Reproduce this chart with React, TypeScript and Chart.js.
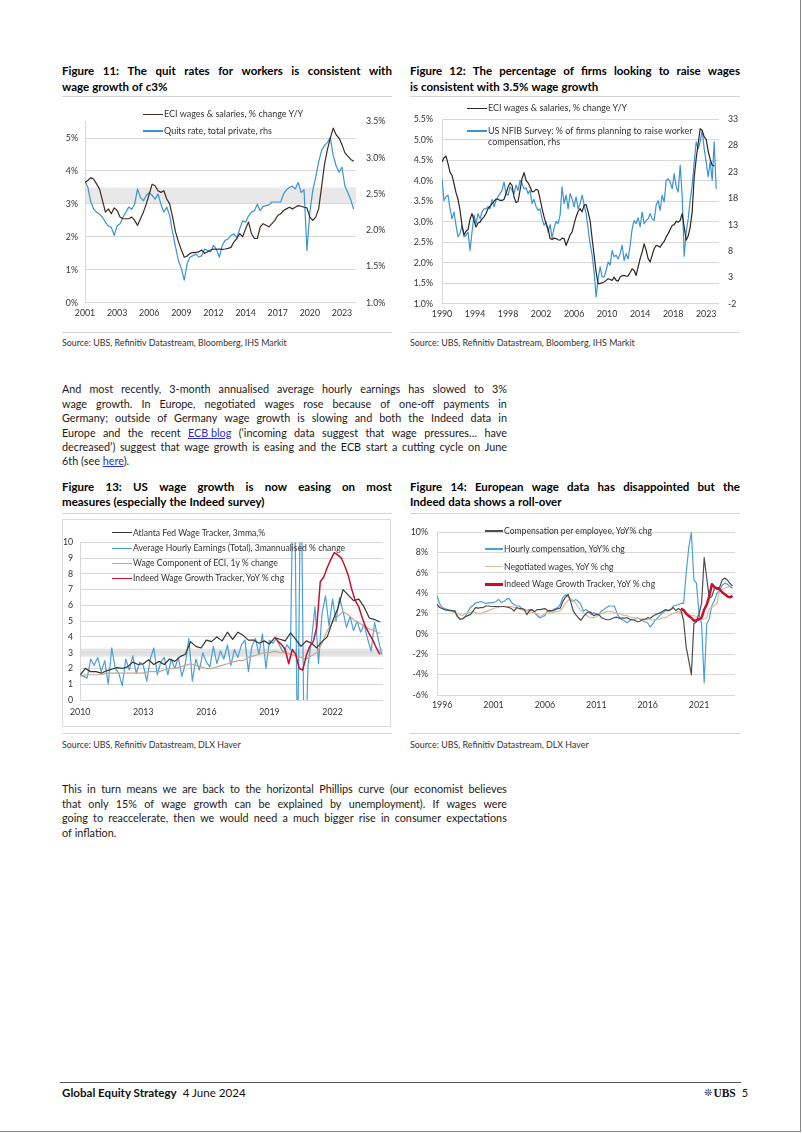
import React, { useEffect, useRef } from 'react';
import { Chart, registerables } from 'chart.js';
Chart.register(...registerables);

// ---------------- DATA ----------------
// Figure 11 (quarterly from 2001)
const fig11Start = 2001;
const fig11Eci = [3.65,3.72,3.8,3.75,3.6,3.45,3.1,2.75,2.85,2.7,2.88,2.8,2.6,2.55,2.55,2.55,2.6,2.5,2.35,2.55,2.75,3.0,3.3,3.6,3.55,3.4,3.35,3.4,3.15,3.0,2.6,2.15,1.85,1.6,1.38,1.42,1.5,1.53,1.52,1.55,1.6,1.5,1.55,1.6,1.63,1.62,1.63,1.62,1.63,1.65,1.68,1.85,1.95,2.1,2.0,2.25,2.45,2.1,1.95,1.95,2.3,2.4,2.35,2.3,2.4,2.5,2.65,2.7,2.8,2.85,2.9,2.85,2.9,2.95,2.93,2.9,2.88,2.6,2.5,2.6,2.85,3.5,4.2,4.65,5.0,5.3,5.1,5.0,4.8,4.55,4.45,4.35,4.3];
const fig11Quits = [2.68,2.59,2.39,2.29,2.25,2.22,2.18,2.11,2.06,2.04,1.93,2.06,2.09,2.18,2.25,2.32,2.29,2.36,2.57,2.45,2.41,2.48,2.52,2.48,2.43,2.5,2.36,2.25,2.32,2.2,1.97,1.77,1.58,1.47,1.31,1.54,1.63,1.65,1.67,1.63,1.65,1.74,1.72,1.7,1.79,1.74,1.63,1.79,1.86,1.88,1.93,1.95,1.9,2.02,2.13,2.11,2.2,2.25,2.27,2.36,2.27,2.33,2.34,2.35,2.39,2.39,2.39,2.39,2.5,2.56,2.59,2.61,2.57,2.66,2.52,2.56,1.72,2.25,2.55,2.73,2.94,3.1,3.17,3.21,3.28,3.03,2.89,2.8,2.87,2.61,2.52,2.42,2.29];
const fig11XTickYears = [2001, 2003.75, 2006.5, 2009.25, 2012, 2014.75, 2017.5, 2020.25, 2023];
const fig11XLabels = ['2001','2003','2006','2009','2012','2014','2017','2020','2023'];
const fig11LeftTicks = [0,1,2,3,4,5];
const fig11RightTicks = [1.0,1.5,2.0,2.5,3.0,3.5];
const fig11Band = [3, 3.5];

// Figure 12 (quarterly from 1990)
const fig12Start = 1990;
const fig12Eci = [4.46,4.56,4.6,4.42,4.21,4.13,3.93,3.71,3.55,3.28,2.91,2.68,2.77,2.81,3.06,3.2,3.03,2.87,2.97,2.99,3.07,3.12,3.2,3.32,3.38,3.44,3.5,3.55,3.55,3.52,3.52,3.55,3.69,3.85,3.95,3.89,3.6,3.47,3.5,3.77,4.05,4.2,4.01,3.95,3.85,3.73,3.74,3.79,3.77,3.56,3.32,3.12,2.95,2.83,2.59,2.57,2.6,2.59,2.56,2.55,2.6,2.59,2.42,2.55,2.68,2.75,2.95,3.12,3.25,3.32,3.24,3.4,3.42,3.24,3.03,2.59,2.18,1.77,1.49,1.49,1.51,1.53,1.57,1.61,1.59,1.57,1.65,1.57,1.55,1.65,1.68,1.69,1.67,1.68,1.76,1.85,1.81,1.69,1.9,2.1,2.26,2.46,2.3,2.1,2.02,2.18,2.34,2.42,2.41,2.38,2.46,2.52,2.63,2.71,2.81,2.91,2.93,3.01,2.99,3.03,3.2,2.87,2.55,2.65,2.87,3.24,4.09,4.54,4.91,5.27,5.23,5.07,5.01,4.72,4.52,4.38,4.36];
const fig12Nfib = [21.7,17.6,18.3,18.6,16.0,14.1,15.4,12.9,10.7,11.3,12.9,10.7,11.0,11.6,8.1,11.6,14.8,13.2,15.1,14.1,15.4,16.0,16.0,16.4,16.0,17.8,16.4,17.6,18.3,18.9,19.5,21.1,18.9,18.6,20.2,19.5,18.9,20.5,19.5,21.4,20.8,19.8,20.0,18.9,19.5,17.0,17.8,16.4,15.7,16.0,14.1,12.9,13.5,11.6,13.0,10.5,12.4,13.6,13.2,14.8,20.2,17.0,18.6,16.0,18.9,17.9,16.4,18.3,16.0,17.0,18.6,16.8,15.1,12.2,9.4,7.2,4.0,-0.7,2.7,5.0,3.1,3.1,4.3,5.9,5.3,8.1,6.9,7.2,6.5,7.5,9.1,6.2,7.5,6.5,9.1,12.2,13.8,13.2,14.3,12.6,15.4,13.2,13.8,14.1,15.1,14.1,13.8,16.7,17.6,15.7,18.6,17.3,21.4,21.7,21.1,19.8,22.7,20.2,19.2,24.3,18.6,7.0,11.6,14.1,17.6,20.5,24.9,28.7,27.4,28.7,30.9,27.4,24.9,22.1,24.9,21.4,28.7,19.8];
const fig12XTickYears = [1990, 1994.125, 1998.25, 2002.375, 2006.5, 2010.625, 2014.75, 2018.875, 2023];
const fig12XLabels = ['1990','1994','1998','2002','2006','2010','2014','2018','2023'];
const fig12LeftTicks = [1.0,1.5,2.0,2.5,3.0,3.5,4.0,4.5,5.0,5.5];
const fig12RightTicks = [-2,3,8,13,18,23,28,33];

// Figure 13
const fig13Start = 2010;
const fig13Atlanta = [1.6,2.0,1.8,1.8,1.7,1.85,1.95,2.05,2.0,2.1,2.4,2.25,2.3,2.55,2.25,2.45,2.25,2.6,2.45,2.75,2.9,3.7,3.4,3.3,3.8,3.7,4.0,3.75,4.3,3.85,4.3,4.1,3.8,3.8,3.6,3.75,3.55,3.95,3.85,3.75,4.25,3.85,3.4,3.75,3.6,3.3,3.7,4.0,5.0,5.8,7.0,6.65,6.3,6.4,5.9,5.2,5.1,4.95];
const fig13Ahe = [1.6,1.5,1.4,2.6,2.2,2.7,1.8,2.5,1.0,3.3,2.0,1.7,0.9,2.6,1.9,2.8,1.7,2.4,2.2,1.2,2.6,3.3,1.6,2.4,2.7,1.6,2.6,2.0,2.7,1.5,2.3,3.9,1.2,2.6,1.9,3.0,2.4,2.1,3.4,2.3,3.1,2.6,3.5,2.2,3.2,2.7,3.5,3.8,1.8,3.4,3.9,2.9,4.2,2.0,3.8,3.6,3.9,3.4,3.0,3.5,3.2,18,-4,16,-6,2.2,3.8,5.9,2.3,5.5,6.6,4.7,6.4,5.0,6.5,5.6,4.6,5.3,4.4,5.0,4.3,4.8,3.9,3.1,4.9,3.9,2.9];
const fig13EciWage = [1.5,1.6,1.6,1.6,1.6,1.7,1.7,1.7,1.7,1.7,1.7,1.7,1.7,1.8,1.8,1.8,1.9,2.0,2.0,2.1,2.2,2.3,2.2,2.1,2.0,2.0,2.1,2.2,2.3,2.4,2.5,2.5,2.7,2.8,2.9,3.0,3.0,3.1,3.0,3.0,2.9,2.8,2.7,2.6,2.8,3.0,3.6,4.4,4.9,5.3,5.6,5.4,5.1,4.9,4.7,4.5,4.4,4.2];
const fig13IndeedStart = 2019.25;
const fig13Indeed = [4.0,3.7,3.5,3.2,2.3,3.2,2.9,2.0,1.9,2.8,3.4,3.7,4.6,7.5,7.8,8.4,8.9,9.35,9.2,9.0,8.5,7.9,7.0,6.3,5.9,5.2,4.6,4.2,3.8,3.3,2.9];
const fig13XTickYears = [2010, 2013, 2016, 2019, 2022];
const fig13XLabels = ['2010','2013','2016','2019','2022'];
const fig13YTicks = [0,1,2,3,4,5,6,7,8,9,10];
const fig13Band = [2.75, 3.25];

// Figure 14 (quarterly from 1995.5)
const fig14Start = 1995.5;
const fig14CompEmp = [2.9,2.6,2.5,2.4,2.35,2.3,2.3,2.2,1.7,1.45,1.5,1.7,1.8,1.9,2.25,2.6,2.55,2.6,2.6,2.75,2.75,2.7,2.7,2.7,2.7,2.7,2.7,2.65,2.6,2.5,2.25,2.6,2.5,2.5,2.4,1.9,2.3,2.4,2.2,2.4,2.4,2.45,2.5,2.3,2.3,2.3,2.4,2.5,2.55,3.2,3.6,3.9,3.2,2.3,1.9,1.6,1.35,1.7,2.0,2.2,2.1,1.8,1.9,1.9,1.6,1.5,1.4,1.4,1.5,1.6,1.65,1.55,1.55,1.55,1.6,1.45,1.4,1.35,1.2,1.25,1.4,1.45,1.6,1.55,1.75,1.9,2.0,2.1,2.25,2.4,2.3,2.4,2.6,2.3,2.5,2.3,1.3,-1.3,-2.6,-4.0,1.0,1.2,2.0,3.0,7.5,5.5,3.5,3.7,4.5,4.4,4.6,5.3,5.5,5.3,5.0,4.7];
const fig14Hourly = [3.8,3.0,2.6,2.5,2.4,2.35,2.3,2.3,1.7,1.45,1.5,1.7,2.2,2.6,2.8,3.05,3.1,3.2,3.1,3.0,3.05,3.05,3.1,3.2,3.4,3.1,3.2,3.4,3.5,3.1,2.9,2.75,2.75,2.5,2.4,2.3,2.4,2.4,2.1,1.8,1.6,1.7,1.8,2.25,2.2,2.3,2.5,2.6,2.9,3.6,3.85,3.7,3.4,3.2,3.4,3.2,2.9,2.25,2.4,2.2,1.9,2.1,2.0,1.9,2.25,2.4,2.6,2.75,2.75,2.75,2.1,1.6,1.4,1.3,1.1,1.3,1.4,1.45,1.6,1.45,1.3,1.2,1.1,0.7,1.0,1.4,1.6,1.9,2.1,2.3,2.3,2.4,2.75,2.8,2.9,3.0,3.0,6.0,8.5,10.0,5.3,5.0,2.0,1.0,-4.8,1.0,1.5,2.8,3.3,4.0,4.3,4.8,5.0,4.9,4.7,4.5];
const fig14Negotiated = [2.9,2.7,2.5,2.4,2.3,2.3,2.2,2.1,2.0,1.9,1.8,2.0,2.1,2.1,2.2,2.1,2.0,2.0,2.1,2.2,2.3,2.4,2.5,2.6,2.6,2.7,2.7,2.7,2.7,2.7,2.6,2.6,2.5,2.4,2.3,2.3,2.2,2.1,2.1,2.0,1.7,1.8,2.0,2.1,2.0,2.1,2.2,2.2,2.3,2.6,3.0,3.3,3.5,3.3,3.0,2.6,2.3,2.1,1.9,1.7,1.6,1.6,1.7,1.9,2.0,2.1,2.2,2.2,2.2,2.1,2.0,2.0,1.9,1.8,1.8,1.7,1.6,1.6,1.5,1.5,1.5,1.5,1.4,1.4,1.4,1.4,1.4,1.5,1.6,1.6,1.8,1.9,2.0,2.1,2.2,2.1,2.0,2.0,1.9,1.8,1.8,1.7,1.5,1.4,1.5,1.6,2.5,2.6,2.8,3.0,4.3,4.4,4.5,4.6,4.7];
const fig14IndeedStart = 2019.25;
const fig14Indeed = [2.5,2.35,2.0,1.75,1.6,1.3,1.35,1.45,1.6,2.4,2.9,3.7,4.9,4.6,4.5,4.4,4.1,3.9,3.7,3.6,3.75];
const fig14XTickYears = [1996, 2001, 2006, 2011, 2016, 2021];
const fig14XLabels = ['1996','2001','2006','2011','2016','2021'];
const fig14YTicks = [-6,-4,-2,0,2,4,6,8,10];

// ---------------- HELPERS ----------------
const FONT = "Lato, 'Open Sans', sans-serif";
const GRID = '#d9d9d9';
const TICK_COLOR = '#333';
const TICK_SIZE = 8.8;

const series = (start: number, step: number, values: number[]) =>
  values.map((y, i) => ({ x: start + i * step, y }));

const line = (data: any, color: string, width: number, yAxisID: string, order: number) => ({
  data, borderColor: color, backgroundColor: color, borderWidth: width, yAxisID, order,
  pointRadius: 0, tension: 0, fill: false, borderJoinStyle: 'round',
});

function yAxis(o: { position: 'left' | 'right'; min: number; max: number; ticks: number[]; width: number; padding: number; fmt: (v: number) => string; grid: boolean; border: boolean }) {
  return {
    type: 'linear', position: o.position, min: o.min, max: o.max,
    afterBuildTicks: (a: any) => { a.ticks = o.ticks.map((v) => ({ value: v })); },
    afterFit: (a: any) => { a.width = o.width; },
    ticks: { padding: o.padding, font: { family: FONT, size: TICK_SIZE }, color: TICK_COLOR, autoSkip: false, callback: (v: any) => o.fmt(Number(v)) },
    grid: { display: o.grid, drawOnChartArea: o.grid, drawTicks: false, color: GRID, lineWidth: 1 },
    border: { display: o.border, color: GRID, width: 1 },
  };
}

function xAxis(o: { min: number; max: number; ticks: number[]; labels: string[]; height: number; padding: number }) {
  return {
    type: 'linear', position: 'bottom', min: o.min, max: o.max,
    afterBuildTicks: (a: any) => { a.ticks = o.ticks.map((v) => ({ value: v })); },
    afterFit: (a: any) => { a.height = o.height; },
    ticks: { padding: o.padding, font: { family: FONT, size: TICK_SIZE }, color: TICK_COLOR, autoSkip: false, maxRotation: 0, minRotation: 0, callback: (_v: any, i: number) => o.labels[i] },
    grid: { display: false, drawTicks: false },
    border: { display: false },
  };
}

const bandPlugin = (low: number, high: number, axis: string, color: string) => ({
  id: 'band',
  beforeDraw(chart: any) {
    const { ctx, chartArea } = chart;
    const s = chart.scales[axis];
    const y1 = s.getPixelForValue(high);
    const y2 = s.getPixelForValue(low);
    ctx.save();
    ctx.fillStyle = color;
    ctx.fillRect(chartArea.left, y1, chartArea.right - chartArea.left, y2 - y1);
    ctx.restore();
  },
});

const baseOptions = (padding: any, scales: any) => ({
  responsive: false, animation: false, devicePixelRatio: 1, events: [],
  plugins: { legend: { display: false }, tooltip: { enabled: false } },
  layout: { padding },
  scales,
});

function ChartBox({ left, top, width, height, make }: any) {
  const ref = useRef<HTMLCanvasElement>(null);
  useEffect(() => {
    const chart = new Chart(ref.current as HTMLCanvasElement, make());
    return () => chart.destroy();
  }, []);
  return <canvas ref={ref} width={width} height={height} style={{ position: 'absolute', left, top, width, height }} />;
}

// ---------------- CHART CONFIGS ----------------
const pct0 = (v: number) => `${v}%`;
const pct1 = (v: number) => `${v.toFixed(1)}%`;

const makeFig11 = (): any => ({
  type: 'line',
  data: {
    datasets: [
      line(series(fig11Start, 0.25, fig11Eci), '#3d2b22', 1.2, 'y', 1),
      line(series(fig11Start, 0.25, fig11Quits), '#3a93d3', 1.2, 'y2', 2),
    ],
  },
  options: baseOptions({ top: 21.6, right: 0, left: 0, bottom: 0 }, {
    x: xAxis({ min: 2001, max: 2024.2, ticks: fig11XTickYears, labels: fig11XLabels, height: 29.3, padding: 5 }),
    y: yAxis({ position: 'left', min: 0, max: 5.5, ticks: fig11LeftTicks, width: 23, padding: 7, fmt: pct0, grid: true, border: true }),
    y2: yAxis({ position: 'right', min: 1.0, max: 3.5, ticks: fig11RightTicks, width: 36, padding: 10, fmt: pct1, grid: false, border: false }),
  }),
  plugins: [bandPlugin(fig11Band[0], fig11Band[1], 'y', '#e8e8e8')],
});

const makeFig12 = (): any => ({
  type: 'line',
  data: {
    datasets: [
      line(series(fig12Start, 0.25, fig12Eci), '#2e2520', 1.2, 'y', 1),
      line(series(fig12Start, 0.25, fig12Nfib), '#3a93d3', 1.2, 'y2', 2),
    ],
  },
  options: baseOptions({ top: 19.3, right: 0, left: 0, bottom: 0 }, {
    x: xAxis({ min: 1990, max: 2024.6, ticks: fig12XTickYears, labels: fig12XLabels, height: 28.3, padding: 5 }),
    y: yAxis({ position: 'left', min: 1.0, max: 5.5, ticks: fig12LeftTicks, width: 32, padding: 9, fmt: pct1, grid: true, border: true }),
    y2: yAxis({ position: 'right', min: -2, max: 33, ticks: fig12RightTicks, width: 21, padding: 9, fmt: (v) => `${v}`, grid: false, border: false }),
  }),
});

const makeFig13 = (): any => ({
  type: 'line',
  data: {
    datasets: [
      line(series(fig13IndeedStart, 1 / 6, fig13Indeed), '#c8102e', 1.5, 'y', 1),
      line(series(fig13Start, 0.25, fig13Atlanta), '#333333', 1.2, 'y', 2),
      line(series(fig13Start, 0.25, fig13EciWage), '#c9a68e', 1.2, 'y', 3),
      line(series(fig13Start, 1 / 6, fig13Ahe), '#4a9fd8', 1.2, 'y', 4),
    ],
  },
  options: baseOptions({ top: 22.3, right: 6, left: 0, bottom: 0 }, {
    x: xAxis({ min: 2010, max: 2024.4, ticks: fig13XTickYears, labels: fig13XLabels, height: 25, padding: 7 }),
    y: yAxis({ position: 'left', min: 0, max: 10, ticks: fig13YTicks, width: 17, padding: 7, fmt: (v) => `${v}`, grid: true, border: true }),
  }),
  plugins: [bandPlugin(fig13Band[0], fig13Band[1], 'y', '#e3e3e3')],
});

const makeFig14 = (): any => ({
  type: 'line',
  data: {
    datasets: [
      line(series(fig14IndeedStart, 0.25, fig14Indeed), '#c8102e', 2.5, 'y', 1),
      line(series(fig14Start, 0.25, fig14CompEmp), '#4d4d4d', 1.2, 'y', 2),
      line(series(fig14Start, 0.25, fig14Negotiated), '#e0b89a', 1.2, 'y', 3),
      line(series(fig14Start, 0.25, fig14Hourly), '#4a9fd8', 1.2, 'y', 4),
    ],
  },
  options: baseOptions({ top: 11.3, right: 5, left: 0, bottom: 0 }, {
    x: xAxis({ min: 1995.5, max: 2024.5, ticks: fig14XTickYears, labels: fig14XLabels, height: 35, padding: 5 }),
    y: yAxis({ position: 'left', min: -6, max: 10, ticks: fig14YTicks, width: 27, padding: 9, fmt: pct0, grid: true, border: true }),
  }),
});

// ---------------- TEXT COMPONENTS ----------------
const abs = (left: number, top: number, extra: any = {}) => ({ position: 'absolute' as const, left, top, ...extra });

function JLine({ x, y, w, text, size, weight = 400, justify = true, lh = 14, color = '#1a1a1a', family = FONT }: any) {
  const tokens: string[] = text.match(/\[[^\]]+\][^\s]*|\S+/g) || [];
  const render = (t: string, i: number) => {
    if (t.startsWith('[')) {
      const inner = t.slice(1, t.indexOf(']'));
      const rest = t.slice(t.indexOf(']') + 1);
      return <span key={i} style={{ flexShrink: 0 }}><span style={{ color: '#2b2bd6', textDecoration: 'underline' }}>{inner}</span>{rest}</span>;
    }
    return <span key={i} style={{ flexShrink: 0 }}>{t}</span>;
  };
  const style: any = {
    ...abs(x, y - lh / 2), width: w, height: lh, lineHeight: `${lh}px`, fontSize: size, fontWeight: weight,
    fontFamily: family, color, whiteSpace: 'nowrap',
  };
  if (justify) {
    return <div style={{ ...style, display: 'flex', justifyContent: 'space-between' }}>{tokens.map(render)}</div>;
  }
  return <div style={{ ...style, display: 'flex', gap: '0.27em' }}>{tokens.map(render)}</div>;
}

function LegendItem({ x, y, color, text, lw = 1.2, len = 20, size = 9, text2 }: any) {
  return (
    <>
      <div style={abs(x, y - lw / 2, { width: len, height: lw, background: color })} />
      <div style={abs(x + len + 1, y - 6, { fontFamily: FONT, fontSize: size, color: '#333', lineHeight: '12px', whiteSpace: 'nowrap' })}>{text}</div>
      {text2 && <div style={abs(x + len + 1, y + 11.3 - 6, { fontFamily: FONT, fontSize: size, color: '#333', lineHeight: '12px', whiteSpace: 'nowrap' })}>{text2}</div>}
    </>
  );
}

const Rule = ({ x, y, w, color = '#d4d4d4', h = 1 }: any) => <div style={abs(x, y, { width: w, height: h, background: color })} />;

function Title({ x, y1, y2, l1, l2 }: any) {
  return (
    <>
      <JLine x={x} y={y1} w={330} text={l1} size={11.5} weight={700} color="#000" lh={16} />
      <JLine x={x} y={y2} w={330} text={l2} size={11.5} weight={700} color="#000" lh={16} justify={false} />
    </>
  );
}

const Source = ({ x, y, text }: any) => (
  <div style={abs(x, y - 6, { fontFamily: FONT, fontSize: 8.9, color: '#333', lineHeight: '12px', whiteSpace: 'nowrap' })}>{text}</div>
);

const para1 = [
  'And most recently, 3-month annualised average hourly earnings has slowed to 3%',
  'wage growth. In Europe, negotiated wages rose because of one-off payments in',
  'Germany; outside of Germany wage growth is slowing and both the Indeed data in',
  'Europe and the recent [ECB blog] (‘incoming data suggest that wage pressures… have',
  'decreased’) suggest that wage growth is easing and the ECB start a cutting cycle on June',
  '6th (see [here]).',
];
const para2 = [
  'This in turn means we are back to the horizontal Phillips curve (our economist believes',
  'that only 15% of wage growth can be explained by unemployment). If wages were',
  'going to reaccelerate, then we would need a much bigger rise in consumer expectations',
  'of inflation.',
];

export default function App() {
  return (
    <div style={{ position: 'absolute', left: 0, top: 0, width: 802, height: 1134, background: '#fff', overflow: 'hidden' }}>
      {/* Figure 11 */}
      <Title x={62} y1={70.7} y2={86.7} l1="Figure 11: The quit rates for workers is consistent with" l2="wage growth of c3%" />
      <Rule x={62} y={95.5} w={330} />
      <ChartBox left={62} top={100} width={330} height={232} make={makeFig11} />
      <LegendItem x={143} y={114.3} color="#3d2b22" text="ECI wages & salaries, % change Y/Y" />
      <LegendItem x={143} y={131} color="#3a93d3" text="Quits rate, total private, rhs" />
      <Rule x={62} y={331.5} w={330} />
      <Source x={62} y={343} text="Source: UBS, Refinitiv Datastream, Bloomberg, IHS Markit" />

      {/* Figure 12 */}
      <Title x={410} y1={70.7} y2={86.7} l1="Figure 12: The percentage of firms looking to raise wages" l2="is consistent with 3.5% wage growth" />
      <Rule x={410} y={95.5} w={330} />
      <ChartBox left={410} top={100} width={330} height={232} make={makeFig12} />
      <LegendItem x={467} y={108.3} color="#2e2520" text="ECI wages & salaries, % change Y/Y" />
      <LegendItem x={467} y={131} color="#3a93d3" text="US NFIB Survey: % of firms planning to raise worker" text2="compensation, rhs" />
      <Rule x={410} y={331.5} w={330} />
      <Source x={410} y={343} text="Source: UBS, Refinitiv Datastream, Bloomberg, IHS Markit" />

      {/* Paragraph 1 */}
      {para1.map((t, i) => (
        <JLine key={i} x={62} y={389.3 + i * 14.4} w={445} text={t} size={10.8} justify={i < para1.length - 1} />
      ))}

      {/* Figure 13 */}
      <Title x={62} y1={486.7} y2={502.3} l1="Figure 13: US wage growth is now easing on most" l2="measures (especially the Indeed survey)" />
      <Rule x={62} y={512.5} w={330} />
      <div style={abs(62, 519, { width: 327, height: 206, border: '1px solid #dcdcdc' })} />
      <ChartBox left={63} top={520} width={326} height={205} make={makeFig13} />
      <LegendItem x={112} y={532.7} color="#333333" text="Atlanta Fed Wage Tracker, 3mma,%" size={8.6} />
      <LegendItem x={112} y={548.3} color="#4a9fd8" text="Average Hourly Earnings (Total),  3mannualised % change" size={8.6} />
      <LegendItem x={112} y={563.3} color="#c9a68e" text="Wage Component of ECI,  1y % change" size={8.6} />
      <LegendItem x={112} y={578.3} color="#c8102e" text="Indeed Wage Growth Tracker, YoY % chg" size={8.6} lw={1.5} />
      <Rule x={62} y={733} w={330} />
      <Source x={62} y={745} text="Source: UBS, Refinitiv Datastream, DLX Haver" />

      {/* Figure 14 */}
      <Title x={410} y1={486.7} y2={502.3} l1="Figure 14: European wage data has disappointed but the" l2="Indeed data shows a roll-over" />
      <Rule x={410} y={512.5} w={330} />
      <ChartBox left={410} top={518} width={330} height={212} make={makeFig14} />
      <LegendItem x={485} y={531} color="#4d4d4d" text="Compensation per employee, YoY% chg" size={8.6} len={18} />
      <LegendItem x={485} y={549} color="#4a9fd8" text="Hourly compensation, YoY% chg" size={8.6} len={18} />
      <LegendItem x={485} y={566.7} color="#e0b89a" text="Negotiated wages, YoY % chg" size={8.6} len={18} />
      <LegendItem x={485} y={584.3} color="#c8102e" text="Indeed Wage Growth Tracker, YoY % chg" size={8.6} len={18} lw={2.5} />
      <Rule x={410} y={733} w={330} />
      <Source x={410} y={745} text="Source: UBS, Refinitiv Datastream, DLX Haver" />

      {/* Paragraph 2 */}
      {para2.map((t, i) => (
        <JLine key={i} x={62} y={789.3 + i * 14.4} w={445} text={t} size={10.8} justify={i < para2.length - 1} />
      ))}

      {/* Footer */}
      <Rule x={60} y={1081.5} w={681} color="#555" />
      <div style={abs(62, 1086, { fontFamily: FONT, fontSize: 11.6, lineHeight: '14px', color: '#111', whiteSpace: 'nowrap' })}>
        <span style={{ fontWeight: 700 }}>Global Equity Strategy</span>
        <span style={{ marginLeft: 6 }}>4 June 2024</span>
      </div>
      <div style={abs(704, 1086, { fontSize: 11, lineHeight: '14px', color: '#111', whiteSpace: 'nowrap', display: 'flex', alignItems: 'center' })}>
        <span style={{ fontFamily: "'DejaVu Sans', sans-serif", fontSize: 10, marginRight: 1 }}>❊</span>
        <span style={{ fontFamily: "'Liberation Serif', serif", fontWeight: 700, fontSize: 11.5 }}>UBS</span>
        <span style={{ fontFamily: FONT, marginLeft: 6 }}>5</span>
      </div>

      {/* Page border */}
      <div style={abs(800, 0, { width: 1, height: 1132, background: '#888' })} />
      <div style={abs(0, 1131, { width: 801, height: 1, background: '#888' })} />
    </div>
  );
}
